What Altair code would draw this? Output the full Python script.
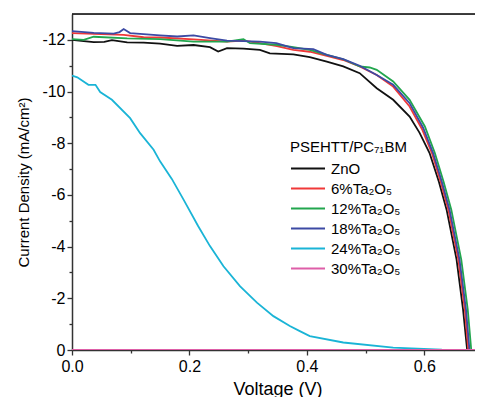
import altair as alt
import pandas as pd

FONT = "Liberation Sans"

series_names = ["ZnO", "6%Ta₂O₅", "12%Ta₂O₅", "18%Ta₂O₅", "24%Ta₂O₅", "30%Ta₂O₅"]
series_colors = ["#111111", "#f03838", "#22a64e", "#3c4aa4", "#1ab4d6", "#de5ea8"]

zno_v = [0.000, 0.020, 0.037, 0.055, 0.068, 0.094, 0.122, 0.150, 0.179, 0.207, 0.235, 0.249, 0.264, 0.292,
         0.320, 0.337, 0.377, 0.405, 0.434, 0.462, 0.490, 0.519, 0.547, 0.575, 0.592, 0.609, 0.625, 0.638,
         0.655, 0.666, 0.673]
zno_j = [-12.00, -11.95, -11.91, -11.92, -11.99, -11.90, -11.89, -11.85, -11.77, -11.80, -11.72, -11.55, -11.68,
         -11.66, -11.61, -11.48, -11.44, -11.33, -11.16, -10.97, -10.71, -10.13, -9.68, -9.03, -8.40, -7.62,
         -6.50, -5.43, -3.50, -1.57, 0.00]

ta6_v = [0.000, 0.037, 0.088, 0.122, 0.150, 0.207, 0.264, 0.292, 0.320, 0.349, 0.377, 0.405, 0.434, 0.462,
         0.490, 0.519, 0.547, 0.575, 0.596, 0.613, 0.628, 0.641, 0.658, 0.669, 0.675]
ta6_j = [-12.26, -12.23, -12.19, -12.10, -12.09, -12.02, -11.93, -11.97, -11.87, -11.76, -11.61, -11.54, -11.38,
         -11.22, -10.97, -10.64, -10.19, -9.42, -8.55, -7.62, -6.50, -5.43, -3.50, -1.57, 0.00]

ta12_v = [0.000, 0.020, 0.037, 0.094, 0.150, 0.207, 0.264, 0.292, 0.303, 0.348, 0.377, 0.405, 0.434, 0.462,
          0.490, 0.507, 0.519, 0.547, 0.575, 0.601, 0.618, 0.633, 0.646, 0.663, 0.674, 0.680]
ta12_j = [-12.03, -12.00, -12.12, -12.06, -12.03, -11.93, -11.93, -12.03, -11.87, -11.81, -11.72, -11.61, -11.42,
          -11.25, -10.97, -10.93, -10.84, -10.39, -9.68, -8.65, -7.62, -6.50, -5.43, -3.50, -1.57, 0.00]

ta18_v = [0.000, 0.037, 0.071, 0.081, 0.088, 0.099, 0.150, 0.179, 0.207, 0.235, 0.264, 0.320, 0.348, 0.377,
          0.411, 0.434, 0.462, 0.490, 0.519, 0.547, 0.575, 0.598, 0.615, 0.630, 0.643, 0.660, 0.671, 0.677]
ta18_j = [-12.34, -12.27, -12.24, -12.30, -12.42, -12.26, -12.17, -12.13, -12.17, -12.07, -11.97, -11.93, -11.87,
          -11.68, -11.64, -11.42, -11.25, -11.00, -10.64, -10.26, -9.55, -8.60, -7.62, -6.50, -5.43, -3.50,
          -1.57, 0.00]

ta24_v = [0.000, 0.009, 0.028, 0.040, 0.048, 0.068, 0.099, 0.116, 0.139, 0.150, 0.170, 0.190, 0.215, 0.235,
          0.258, 0.286, 0.315, 0.343, 0.371, 0.388, 0.405, 0.462, 0.547, 0.630, 0.700]
ta24_j = [-10.62, -10.55, -10.26, -10.26, -9.98, -9.68, -8.97, -8.39, -7.75, -7.30, -6.62, -5.82, -4.79, -4.02,
          -3.24, -2.47, -1.83, -1.31, -0.93, -0.73, -0.54, -0.29, -0.09, -0.01, 0.00]

ta30_v = [0.000, 0.350, 0.700]
ta30_j = [0.00, 0.00, 0.00]

x_domain = [0.0, 0.7]
y_domain = [-13, 0]
x_major = [0.0, 0.2, 0.4, 0.6]
x_minor = [0.1, 0.3, 0.5]
y_major = [0, -2, -4, -6, -8, -10, -12]
y_minor = [-1, -3, -5, -7, -9, -11]

all_v = [zno_v, ta6_v, ta12_v, ta18_v, ta24_v, ta30_v]
all_j = [zno_j, ta6_j, ta12_j, ta18_j, ta24_j, ta30_j]
rows = []
for k, (name, vs, js) in enumerate(zip(series_names, all_v, all_j)):
    for i, (v, j) in enumerate(zip(vs, js)):
        rows.append({"V": v, "J": j, "series": name, "k": k, "i": i})
df = pd.DataFrame(rows)

frame_df = pd.DataFrame({"V": [x_domain[0]], "V2": [x_domain[1]], "J": [y_domain[0]]})

xscale = alt.Scale(domain=x_domain, nice=False, zero=False)
yscale = alt.Scale(domain=y_domain, reverse=True, nice=False, zero=False)

axis_common = dict(
    grid=False, domainColor="#333333", domainWidth=1.5, tickColor="#333333", tickWidth=1.3,
    labelFont=FONT, titleFont=FONT, labelColor="black", titleColor="black", titleFontWeight="normal",
)

lines = alt.Chart(df).mark_line(strokeWidth=1.8, clip=True).encode(
    x=alt.X("V:Q", scale=xscale, axis=alt.Axis(
        values=x_major, format=".1f", title="Voltage (V)", titleFontSize=18, labelFontSize=16,
        tickSize=5, labelPadding=3, titlePadding=6, labelFlush=False, orient="bottom", **axis_common)),
    y=alt.Y("J:Q", scale=yscale, axis=alt.Axis(
        values=y_major, labelExpr="'' + datum.value", title="Current Density (mA/cm²)",
        titleFontSize=15, labelFontSize=16, tickSize=5, labelPadding=2, titlePadding=10,
        orient="left", **axis_common)),
    color=alt.Color("series:N", scale=alt.Scale(domain=series_names, range=series_colors),
                    legend=alt.Legend(
                        title="PSEHTT/PC₇₁BM", orient="none", legendX=218, legendY=126,
                        symbolType="M-1,0H3", symbolSize=289, symbolStrokeWidth=2,
                        labelOffset=22, titleFont=FONT, titleFontSize=15, titleFontWeight="normal",
                        titleColor="black", labelFont=FONT, labelFontSize=15, labelColor="black",
                        rowPadding=2, titlePadding=4, padding=0)),
    detail="k:Q",
    order="i:Q",
)

frame = alt.Chart(frame_df).mark_rule(color="black", strokeWidth=1.5).encode(
    x=alt.X("V:Q", scale=xscale, axis=alt.Axis(
        values=x_minor, labels=False, domain=False, tickSize=3, title=None, orient="bottom",
        **axis_common)),
    x2="V2:Q",
    y=alt.Y("J:Q", scale=yscale, axis=alt.Axis(
        values=y_minor, labels=False, domain=False, tickSize=3, title=None, orient="left",
        **axis_common)),
)

chart = alt.layer(frame, lines).resolve_axis(x="independent", y="independent").properties(
    width=411, height=336,
    autosize=alt.AutoSizeParams(type="none"),
    padding={"left": 64, "top": 6, "right": -8, "bottom": 47},
).configure_view(stroke=None).configure(background="white")

chart.save("out.html", embed_options={"renderer": "svg", "actions": False})
